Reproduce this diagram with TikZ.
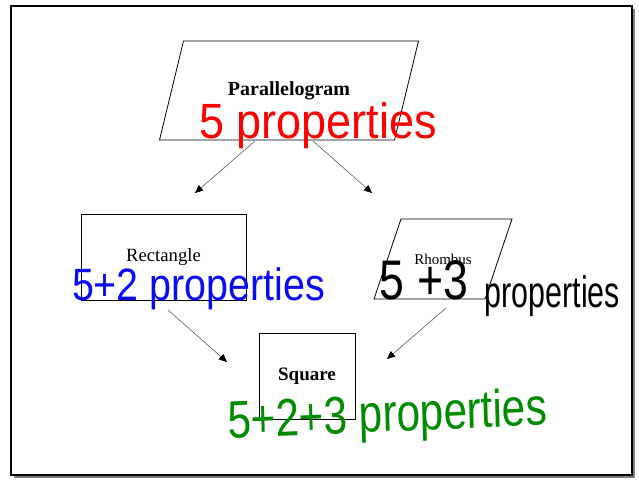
\documentclass[tikz,border=0pt]{standalone}
\usepackage{fontspec}
\setmainfont{Liberation Serif}
\newfontfamily\handfont{Liberation Sans}
\usepackage{tikz}
\usetikzlibrary{
    arrows.meta,
    positioning
}
\definecolor{penred}{RGB}{255,0,0}
\definecolor{penblue}{RGB}{10,10,245}
\definecolor{pengreen}{RGB}{0,140,0}
\definecolor{arrowgray}{RGB}{95,95,95}
\newcommand{\handsize}[1]{\handfont\fontsize{#1}{#1}\selectfont}
\newcommand{\labelsize}[1]{\fontsize{#1}{#1}\selectfont}
\tikzstyle{shapebox} = [
    draw=black,
    line width=0.8pt,
    inner sep=0pt,
    outer sep=0pt,
    align=center
]
\tikzstyle{slantbox} = [
    shapebox,
    draw=none
]
\tikzstyle{outline} = [
    draw=black,
    line width=0.8pt,
    line join=miter
]
\tikzstyle{arrow} = [
    -{Triangle[length=8pt,width=7pt,color=black]},
    draw=arrowgray,
    line width=0.6pt
]
\tikzstyle{hand} = [
    inner sep=0pt,
    outer sep=0pt
]
\begin{document}
\begin{tikzpicture}[x=1pt, y=-1pt]
        \useasboundingbox (0,0) rectangle (639,479);
        % Frame with shadow
        \fill[gray] (14,9) rectangle (635,478);
        \draw[black, line width=1.6pt, fill=white] (11,6) rectangle (632,475);

        % Nodes
        \node[slantbox, minimum width=235pt, minimum height=99pt,
              font=\labelsize{20}\bfseries] (para) at (289,90.5) {Parallelogram};
        \node[shapebox, minimum width=165pt, minimum height=86pt,
              font=\labelsize{18.7}] (rect) at (163.5,257) {Rectangle};
        \node[slantbox, minimum width=111pt, minimum height=80pt,
              font=\labelsize{15}] (rhomb) at (443,259) {Rhombus};
        \node[shapebox, minimum width=96pt, minimum height=86pt,
              font=\labelsize{19}\bfseries] (square) at (307,376) {Square};

        % Slanted outlines
        \draw[outline] ([xshift=-12pt]para.south west) -- ([xshift=12pt]para.north west)
            -- ([xshift=12pt]para.north east) -- ([xshift=-12pt]para.south east) -- cycle;
        \draw[outline] ([xshift=-13.5pt]rhomb.south west) -- ([xshift=13.5pt]rhomb.north west)
            -- ([xshift=13.5pt]rhomb.north east) -- ([xshift=-13.5pt]rhomb.south east) -- cycle;

        % Arrow ends
        \coordinate (paraL) at (255,141);
        \coordinate (paraR) at (313,141);
        \coordinate (rectIn) at (195,193);
        \coordinate (rhombIn) at (372,193);
        \coordinate (rectOut) at (168,310);
        \coordinate (rhombOut) at (446,308);
        \coordinate (squareL) at (227,362);
        \coordinate (squareR) at (387,359);
        \draw[arrow] (paraL) -- (rectIn);
        \draw[arrow] (paraR) -- (rhombIn);
        \draw[arrow] (rectOut) -- (squareL);
        \draw[arrow] (rhombOut) -- (squareR);

        % Handwritten notes
        \node[hand, text=penred, font=\handsize{45}, yscale=1.1] (redNote) at (318,126) {5 properties};
        \node[hand, text=penblue, font=\handsize{39.4}, yscale=1.15] (blueNote) at (198.5,289) {5+2 properties};
        \node[hand, text=black, font=\handsize{44.6}, yscale=1.25] (blackNum) at (424,280) {5 +3};
        \node[hand, text=black, font=\handsize{30.4}, yscale=1.45] (blackNote) at (552.5,296) {properties};
        \node[hand, text=pengreen, font=\handsize{42.3}, yscale=1.25, rotate=2] (greenNote) at (387.5,418) {5+2+3 properties};
    \end{tikzpicture}
\end{document}
